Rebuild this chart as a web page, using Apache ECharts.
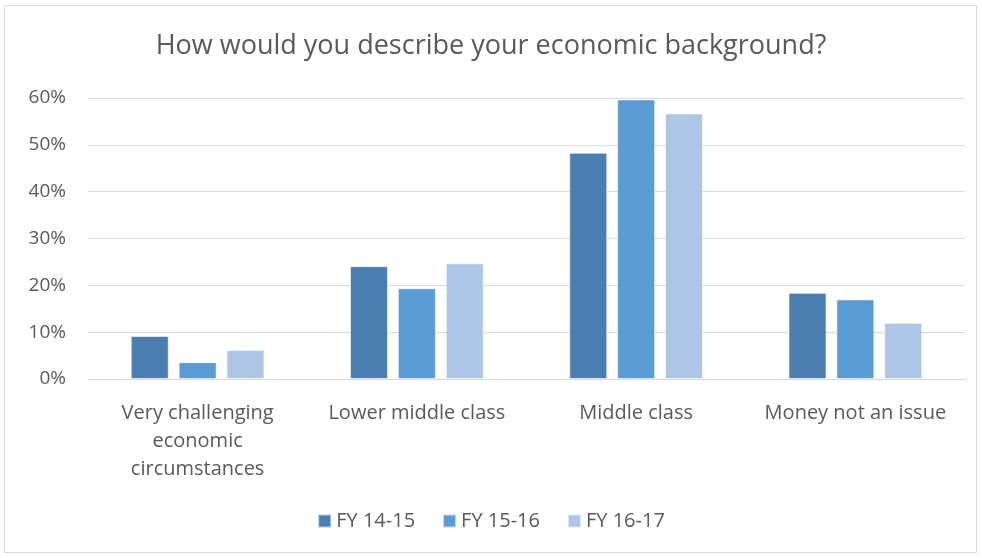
<!DOCTYPE html>
<html>
<head>
<meta charset="utf-8">
<script src="https://cdn.jsdelivr.net/npm/echarts@6/dist/echarts.min.js"></script>
<style>
  html, body { margin: 0; padding: 0; background: #ffffff; }
  #chart { width: 982px; height: 558px; }
</style>
</head>
<body>
<div id="chart"></div>
<script>
// data (percent)
var categories = ["Very challenging\neconomic\ncircumstances", "Lower middle class", "Middle class", "Money not an issue"];
var fy1415 = [9.2, 24.1, 48.3, 18.4];
var fy1516 = [3.6, 19.4, 59.7, 17.0];
var fy1617 = [6.2, 24.7, 56.7, 12.0];
var seriesNames = ["FY 14-15", "FY 15-16", "FY 16-17"];
var colors = ["#4a7eb0", "#5b9bd5", "#adc6e6"];

var chart = echarts.init(document.getElementById("chart"));
var font = "'Open Sans', 'Noto Sans', sans-serif";

function bar(name, data, color) {
  return {
    name: name,
    type: "bar",
    data: data,
    barWidth: 38,
    barGap: "26%",
    itemStyle: { color: color, borderColor: "rgba(255,255,255,0.6)", borderWidth: 1 }
  };
}

var option = {
  animation: false,
  textStyle: { fontFamily: font },
  graphic: [{
    type: "rect",
    shape: { x: 4.5, y: 5.5, width: 972, height: 547 },
    style: { fill: "none", stroke: "#d9d9d9", lineWidth: 1 },
    silent: true
  }],
  title: {
    text: "How would you describe your economic background?",
    left: "center",
    top: 28,
    textStyle: { fontFamily: font, fontSize: 27, fontWeight: "normal", color: "#595959" }
  },
  legend: {
    data: seriesNames,
    bottom: 22,
    left: "center",
    icon: "rect",
    itemWidth: 13,
    itemHeight: 13,
    itemGap: 27,
    textStyle: { fontFamily: font, fontSize: 20, color: "#595959" }
  },
  grid: { left: 88, right: 17, top: 98, bottom: 179 },
  xAxis: {
    type: "category",
    data: categories,
    axisLine: { lineStyle: { color: "#d9d9d9", width: 1 } },
    axisTick: { show: false },
    axisLabel: { fontFamily: font, fontSize: 20, color: "#595959", margin: 20, lineHeight: 28, interval: 0 }
  },
  yAxis: {
    type: "value",
    min: 0,
    max: 60,
    interval: 10,
    axisLine: { show: false },
    axisTick: { show: false },
    splitLine: { lineStyle: { color: "#d9d9d9", width: 1 } },
    axisLabel: { formatter: "{value}%", fontFamily: font, fontSize: 19, color: "#595959", margin: 22 }
  },
  series: [
    bar(seriesNames[0], fy1415, colors[0]),
    bar(seriesNames[1], fy1516, colors[1]),
    bar(seriesNames[2], fy1617, colors[2])
  ]
};

chart.setOption(option);
</script>
</body>
</html>
